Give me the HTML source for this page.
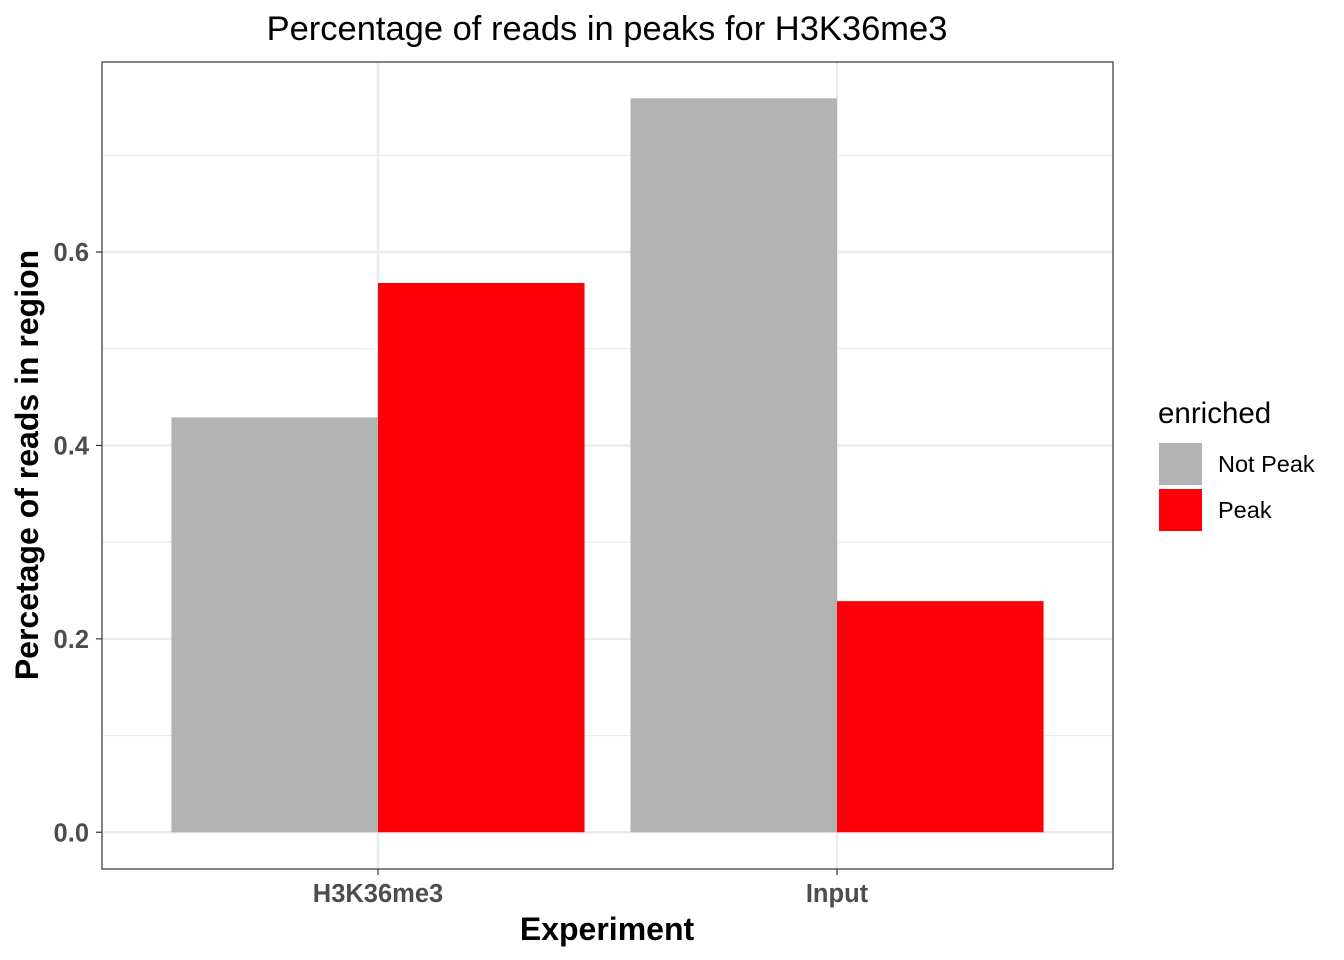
<!DOCTYPE html>
<html><head><meta charset="utf-8"><style>
html,body{margin:0;padding:0;background:#fff;}
svg{display:block;font-family:"Liberation Sans",Arial,sans-serif;}
</style></head><body>
<svg id="chart" width="1344" height="960"></svg>
<script>
const categories = ["H3K36me3", "Input"];
const groups = ["Not Peak", "Peak"];
const notPeakValues = [0.429, 0.759];
const peakValues = [0.568, 0.239];
const yTicks = [0.0, 0.2, 0.4, 0.6];
const yTickLabels = ["0.0", "0.2", "0.4", "0.6"];
const colors = ["#b3b3b3", "#ff0009"];

const NS = "http://www.w3.org/2000/svg";
const svg = document.getElementById("chart");
const P = {l:102, r:1113, t:62, b:869};
const yMin = -0.038, yMax = 0.7965;
function y(v){ return P.b - (v - yMin) / (yMax - yMin) * (P.b - P.t); }
const xStart = 378, xStep = 459;
function x(i){ return xStart + i * xStep; }
const bandW = 0.9 * xStep;

function el(tag, attrs, parent){
  const e = document.createElementNS(NS, tag);
  for (const k in attrs) e.setAttribute(k, attrs[k]);
  (parent || svg).appendChild(e);
  return e;
}

const panel = el("rect", {x:P.l, y:P.t, width:P.r-P.l, height:P.b-P.t, fill:"#fff"});



for (let i = 0; i < yTicks.length; i++) {
  const v = yTicks[i] + 0.1;
  if (v < yMax) {
    const g = el("line", {x1:P.l, x2:P.r, y1:y(v), y2:y(v), stroke:"#ebebeb", "stroke-width":1.2});
    
    
  }
}
yTicks.forEach(v => {
  const g = el("line", {x1:P.l, x2:P.r, y1:y(v), y2:y(v), stroke:"#ebebeb", "stroke-width":2.4});
  
  
});
categories.forEach((c, i) => {
  const g = el("line", {x1:x(i), x2:x(i), y1:P.t, y2:P.b, stroke:"#ebebeb", "stroke-width":2.4});
  
  
});

const series = [notPeakValues, peakValues];
categories.forEach((c, i) => {
  series.forEach((vals, s) => {
    const x0 = x(i) - bandW/2 + s * bandW/2;
    const r = el("rect", {x:x0, y:y(vals[i]), width:bandW/2, height:y(0)-y(vals[i]), fill:colors[s]});
    
    
  });
});

const border = el("rect", {x:P.l, y:P.t, width:P.r-P.l, height:P.b-P.t, fill:"none", stroke:"#333", "stroke-width":1.2});



yTicks.forEach((v, i) => {
  const t = el("line", {x1:P.l-6, x2:P.l, y1:y(v), y2:y(v), stroke:"#333", "stroke-width":1.2});
  
  
  const lab = el("text", {x:P.l-13, y:y(v)+9, "text-anchor":"end", "font-size":25.5, "font-weight":"bold", fill:"#4d4d4d"});
  lab.textContent = yTickLabels[i];
  
  
});
categories.forEach((c, i) => {
  const t = el("line", {x1:x(i), x2:x(i), y1:P.b, y2:P.b+6, stroke:"#333", "stroke-width":1.2});
  
  
  const lab = el("text", {x:x(i), y:902, "text-anchor":"middle", "font-size":25.5, "font-weight":"bold", fill:"#4d4d4d"});
  lab.textContent = c;
  
  
});

const title = el("text", {x:607, y:40, "text-anchor":"middle", "font-size":34.5, fill:"#000"});
title.textContent = "Percentage of reads in peaks for H3K36me3";



const xt = el("text", {x:607, y:940, "text-anchor":"middle", "font-size":32, "font-weight":"bold", fill:"#000"});
xt.textContent = "Experiment";



const yt = el("text", {x:0, y:0, "text-anchor":"middle", "font-size":32, "font-weight":"bold", fill:"#000", transform:"translate(38,465) rotate(-90)"});
yt.textContent = "Percetage of reads in region";



const lt = el("text", {x:1158, y:423, "font-size":29.5, fill:"#000"});
lt.textContent = "enriched";


groups.forEach((g, s) => {
  const ky = 443 + s * 46;
  const k = el("rect", {x:1159, y:ky, width:43, height:42, fill:colors[s]});
  
  
  const t = el("text", {x:1218, y:ky+29, "font-size":23.5, fill:"#000"});
  t.textContent = g;
  
  
});
</script>
</body></html>
